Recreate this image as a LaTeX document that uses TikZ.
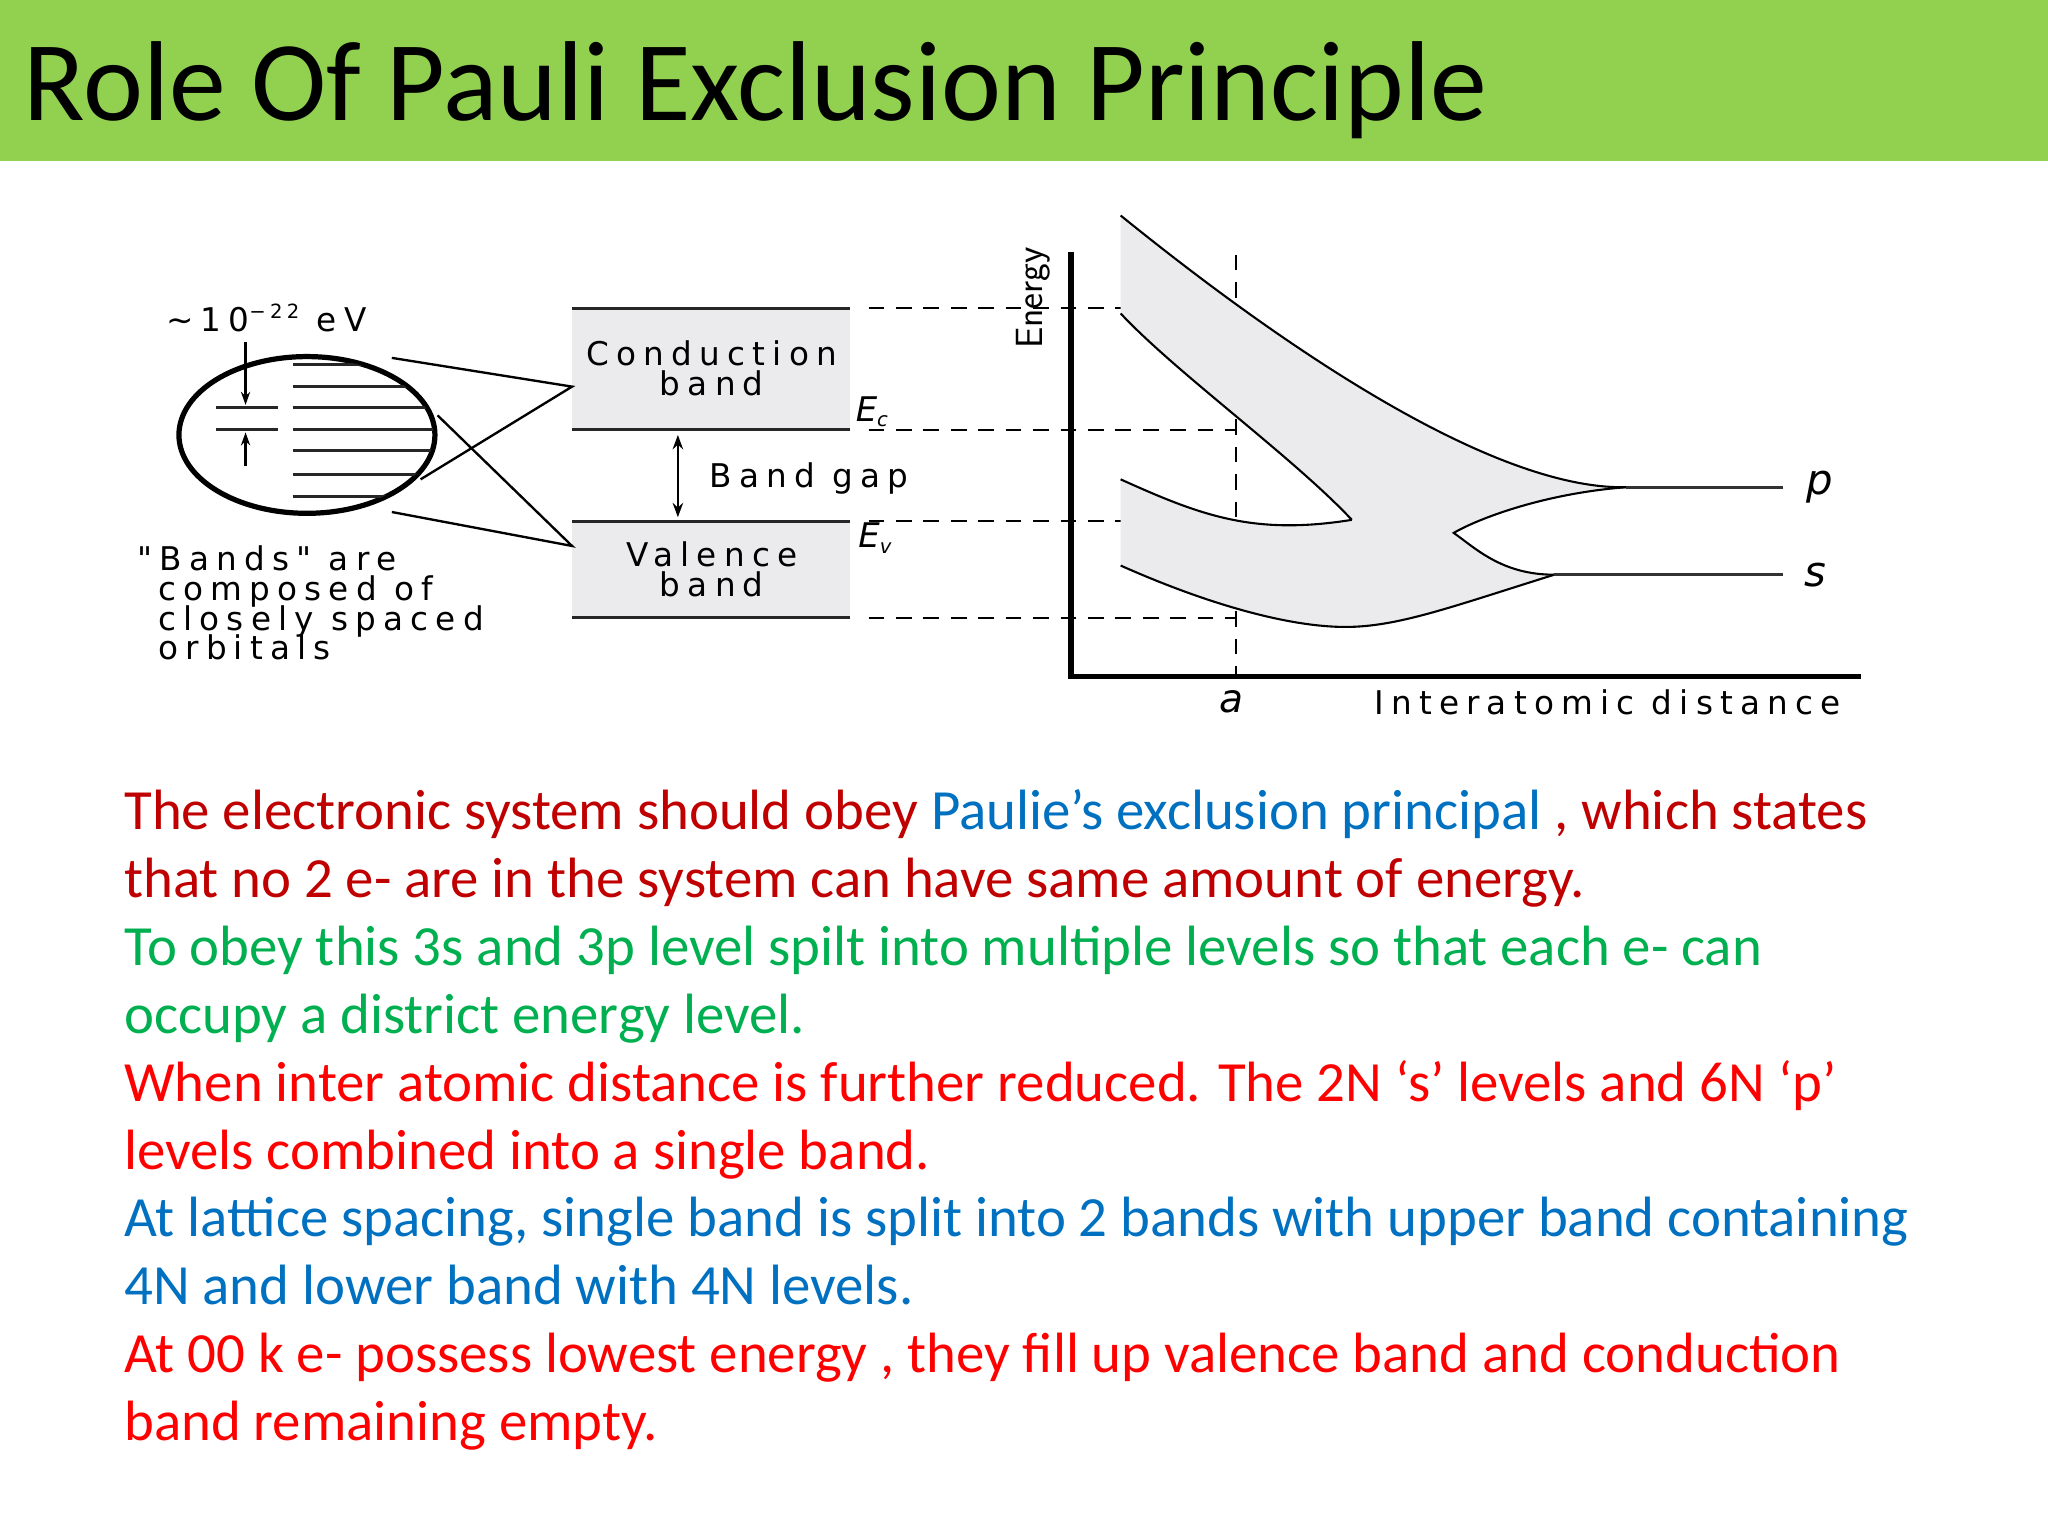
\documentclass[tikz,border=0pt]{standalone}
\usepackage{fontspec}
\setmainfont{Carlito}
\newfontfamily\dg[LetterSpace=22]{DejaVu Sans}
\newfontfamily\dgi[LetterSpace=5]{DejaVu Sans Oblique}
\usetikzlibrary{arrows.meta}
\definecolor{titlegreen}{HTML}{92D050}
\definecolor{dred}{HTML}{C00000}
\definecolor{bred}{HTML}{FF0000}
\definecolor{tblue}{HTML}{0070C0}
\definecolor{tgreen}{HTML}{00B050}
\definecolor{bandgray}{HTML}{EBEAED}
\tikzset{
  body/.style={anchor=base west,inner sep=0,font=\fontsize{43.5}{50}\selectfont},
  blab/.style={inner sep=0,anchor=base west,font=\dg\fontsize{25}{22}\selectfont},
  dashline/.style={dashed,dash pattern=on 12pt off 9pt,line width=1.6pt},
  bline/.style={line width=2.5pt,black!85},
  curve/.style={line width=1.6pt}
}
\begin{document}
\begin{tikzpicture}[x=1pt,y=-1pt]
\useasboundingbox (0,0) rectangle (1568,1176);
\fill[white] (0,0) rectangle (1568,1176);
\fill[titlegreen] (0,0) rectangle (1568,123);
\node[anchor=base west,inner sep=0,font=\fontsize{87}{95}\selectfont] (title) at (18,92) {Role Of Pauli Exclusion Principle};

% band boxes
\fill[bandgray] (438,236) rectangle (651,329);
\fill[bandgray] (438,399) rectangle (651,473);
\draw[bline] (438,236) -- (651,236);
\draw[bline] (438,329) -- (651,329);
\draw[bline] (438,399) -- (651,399);
\draw[bline] (438,473) -- (651,473);
\node[blab,anchor=base] (cb1) at (545,280) {Conduction};
\node[blab,anchor=base] (cb2) at (545,303) {band};
\node[blab,anchor=base] (vb1) at (545,434) {Valence};
\node[blab,anchor=base] (vb2) at (545,457) {band};
\coordinate (gt) at (519,333);
\coordinate (gb) at (519,396);
\draw[line width=2pt,{Stealth[length=11pt,width=8pt]}-{Stealth[length=11pt,width=8pt]}] (gt) -- (gb);
\node[blab] (gap) at (543,373) {Band gap};
\node[inner sep=0,font=\dgi\fontsize{26}{26}\selectfont,anchor=west] (ec) at (655,315) {E\raisebox{-4pt}{\fontsize{15}{15}\selectfont c}};
\node[inner sep=0,font=\dgi\fontsize{26}{26}\selectfont,anchor=west] (ev) at (657,412) {E\raisebox{-4pt}{\fontsize{15}{15}\selectfont v}};

% dashed levels
\draw[dashline] (665,236) -- (946,236);
\draw[dashline] (665,329) -- (946,329);
\draw[dashline] (665,399) -- (946,399);
\draw[dashline] (665,473) -- (946,473);
\draw[dashline] (946,195) -- (946,518);

% shaded bands
\fill[bandgray] (858,165) .. controls (1000,280) and (1150,375) .. (1245,373)
  .. controls (1180,378) and (1130,398) .. (1113,408)
  .. controls (1130,420) and (1150,440) .. (1190,440)
  .. controls (1110,465) and (1070,480) .. (1030,480)
  .. controls (990,480) and (930,465) .. (858,433)
  -- (858,367) .. controls (920,395) and (960,410) .. (1035,398)
  .. controls (990,350) and (900,285) .. (858,240) -- cycle;
\draw[curve] (858,165) .. controls (1000,280) and (1150,375) .. (1245,373);
\draw[curve] (1245,373) .. controls (1180,378) and (1130,398) .. (1113,408)
  .. controls (1130,420) and (1150,440) .. (1190,440);
\draw[curve] (1190,440) .. controls (1110,465) and (1070,480) .. (1030,480)
  .. controls (990,480) and (930,465) .. (858,433);
\draw[curve] (858,367) .. controls (920,395) and (960,410) .. (1035,398);
\draw[curve] (1035,398) .. controls (990,350) and (900,285) .. (858,240);
\draw[line width=2.5pt,black!80] (1245,373) -- (1365,373);
\draw[line width=2.5pt,black!80] (1190,440) -- (1365,440);
\node[inner sep=0,font=\dgi\fontsize{32}{32}\selectfont] (p) at (1393,373) {p};
\node[inner sep=0,font=\dgi\fontsize{32}{32}\selectfont] (s) at (1390,440) {s};

% axes
\draw[line width=4pt] (820,193) -- (820,518) -- (1425,518);
\node[inner sep=0,rotate=90,font=\fontsize{29}{29}\selectfont\sffamily] (energy) at (791,228) {Energy};
\node[inner sep=0,font=\dgi\fontsize{30}{30}\selectfont] (a) at (943,537) {a};
\node[blab] (ida) at (1052,547) {Interatomic distance};

% ellipse zoom
\draw[line width=4pt] (235,333) ellipse [x radius=98,y radius=60];
\begin{scope}
\clip (235,333) ellipse [x radius=97,y radius=59];
\foreach \yy in {279,296,312,329,345,363,380} \draw[line width=2.2pt,black!85] (224,\yy) -- (340,\yy);
\end{scope}
\draw[line width=2.2pt,black!85] (165,312) -- (213,312);
\draw[line width=2.2pt,black!85] (165,329) -- (213,329);
\draw[line width=1.8pt,-{Stealth[length=10pt,width=7pt]}] (188,262) -- (188,310);
\draw[line width=1.8pt,-{Stealth[length=10pt,width=7pt]}] (188,357) -- (188,331);
\node[blab] (ev22) at (127,254) {\char"223C{}10\raisebox{10pt}{\fontsize{15}{15}\selectfont −22} eV};
\draw[line width=1.8pt] (300,274) -- (438,296) -- (322,367);
\draw[line width=1.8pt] (300,392) -- (438,418) -- (335,318);
\node[blab] (bd1) at (105,437) {"Bands" are};
\node[blab] (bd2) at (121,460) {composed of};
\node[blab] (bd3) at (121,483) {closely spaced};
\node[blab] (bd4) at (121,505) {orbitals};

% body text
\node[body,text=dred] (l1) at (95,635) {The electronic system should obey \textcolor{tblue}{Paulie’s exclusion principal} , which states};
\node[body,text=dred] (l2) at (95,687) {that no 2 e- are in the system can have same amount of energy.};
\node[body,text=tgreen] (l3) at (95,739) {To obey this 3s and 3p level spilt into multiple levels so that each e- can};
\node[body,text=tgreen] (l4) at (95,791) {occupy a district energy level.};
\node[body,text=bred] (l5) at (95,843) {When inter atomic distance is further reduced. The 2N ‘s’ levels and 6N ‘p’};
\node[body,text=bred] (l6) at (95,895) {levels combined into a single band.};
\node[body,text=tblue] (l7) at (95,947) {At lattice spacing, single band is split into 2 bands with upper band containing};
\node[body,text=tblue] (l8) at (95,999) {4N and lower band with 4N levels.};
\node[body,text=bred] (l9) at (95,1051) {At 00 k e- possess lowest energy , they fill up valence band and conduction};
\node[body,text=bred] (l10) at (95,1103) {band remaining empty.};
\end{tikzpicture}
\end{document}
